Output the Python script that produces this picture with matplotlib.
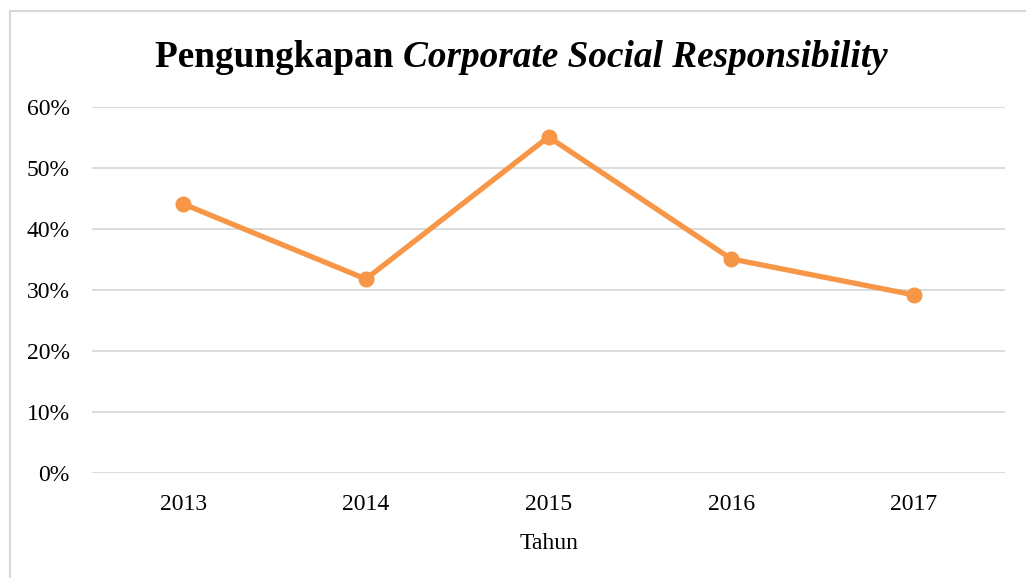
import matplotlib
matplotlib.use("Agg")
import matplotlib.pyplot as plt
from matplotlib.lines import Line2D
from matplotlib.ticker import PercentFormatter

years = ["2013", "2014", "2015", "2016", "2017"]
values = [0.441, 0.318, 0.551, 0.351, 0.292]
yticks = [0.0, 0.1, 0.2, 0.3, 0.4, 0.5, 0.6]

W, H = 1026, 578
fig = plt.figure(figsize=(W / 100, H / 100), dpi=100)
plt.rcParams['font.family'] = ['Liberation Serif', 'DejaVu Serif']

# outer chart border (top and left visible)
fig.add_artist(Line2D([9.5 / W, 9.5 / W], [0, 1 - 10.5 / H], transform=fig.transFigure,
                      color="#d9d9d9", lw=1.5))
fig.add_artist(Line2D([9.5 / W, 1], [1 - 10.5 / H, 1 - 10.5 / H], transform=fig.transFigure,
                      color="#d9d9d9", lw=1.5))

left, right, bottom, top = 92 / W, 1005 / W, 1 - 473 / H, 1 - 107 / H
ax = fig.add_axes([left, bottom, right - left, top - bottom])

x = list(range(len(years)))
ax.plot(x, values, color="#F79646", lw=3.8, marker="o", markersize=10.5,
        solid_capstyle="round", zorder=3, clip_on=False)

ax.set_xlim(-0.5, len(years) - 0.5)
ax.set_ylim(0, 0.6)
ax.set_yticks(yticks)
ax.yaxis.set_major_formatter(PercentFormatter(1.0, decimals=0))
ax.set_xticks(x)
ax.set_xticklabels(years)
ax.grid(axis="y", color="#d9d9d9", lw=1.3)
ax.set_axisbelow(True)
for s in ax.spines.values():
    s.set_visible(False)
ax.tick_params(axis="both", length=0, labelsize=17, colors="black")
ax.tick_params(axis="y", pad=16)
ax.tick_params(axis="x", pad=15)
ax.set_xlabel("Tahun", fontsize=17, labelpad=13)

# title with mixed styles
fig.canvas.draw()
r = fig.canvas.get_renderer()
ty = 1 - 67 / H
t1 = fig.text(0, ty, "Pengungkapan ", fontsize=26.8, fontweight="bold", va="baseline")
t2 = fig.text(0, ty, "Corporate Social Responsibility", fontsize=26.8, fontweight="bold",
              style="italic", va="baseline")
w1 = t1.get_window_extent(r).width
w2 = t2.get_window_extent(r).width
cx = 521
x0 = cx - (w1 + w2) / 2
t1.set_x(x0 / W)
t2.set_x((x0 + w1) / W)

fig.savefig("out.png", dpi=100)
